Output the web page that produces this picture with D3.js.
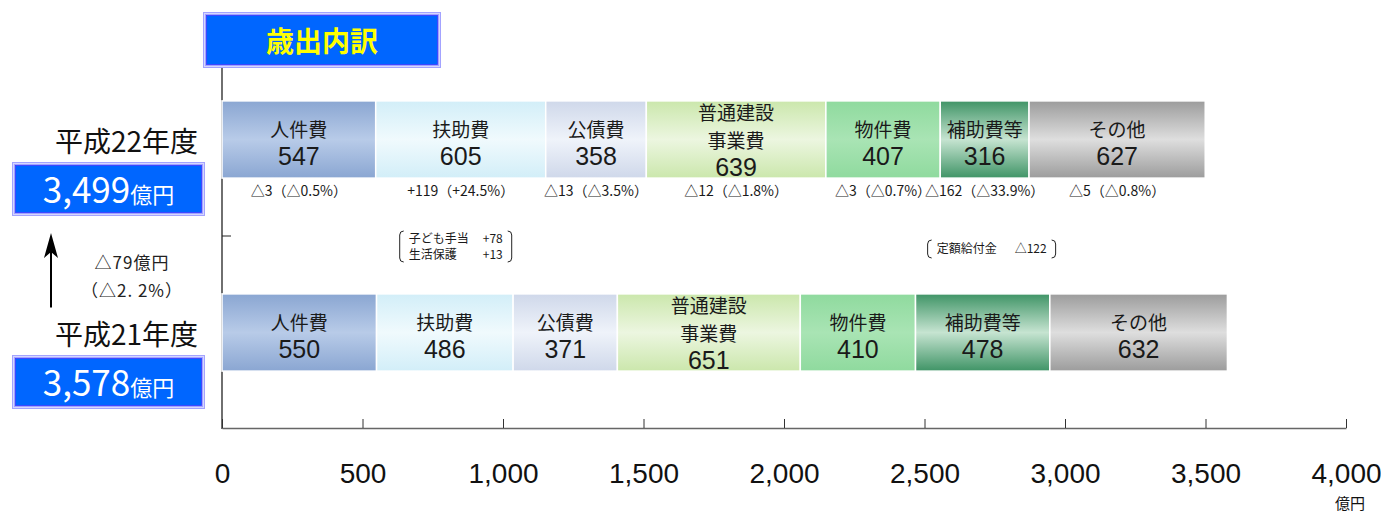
<!DOCTYPE html>
<html><head><meta charset="utf-8">
<script src="https://cdn.jsdelivr.net/npm/d3@7"></script>
<style>
body{margin:0;background:#fff}
svg{display:block}
</style></head><body>
<svg id="chart"></svg>
<script>
// data
const years = ["平成22年度", "平成21年度"];
const totals = ["3,499", "3,578"];
const items = ["人件費", "扶助費", "公債費", "普通建設事業費", "物件費", "補助費等", "その他"];
const itemLines = [["人件費"], ["扶助費"], ["公債費"], ["普通建設", "事業費"], ["物件費"], ["補助費等"], ["その他"]];
const h22 = [547, 605, 358, 639, 407, 316, 627];
const h21 = [550, 486, 371, 651, 410, 478, 632];
const changes = ["△3（△0.5%）", "+119（+24.5%）", "△13（△3.5%）", "△12（△1.8%）", "△3（△0.7%）", "△162（△33.9%）", "△5（△0.8%）"];
const diffLines = ["△79億円", "（△2. 2%）"];
const xTicks = [0, 500, 1000, 1500, 2000, 2500, 3000, 3500, 4000];
// notes under a segment: [item index, [[name, value], ...]]
const notes = [[1, [["子ども手当", "+78"], ["生活保護", "+13"]]], [5, [["定額給付金", "△122"]]]];
const grad = [["#8aa6d2", "#b8cbe8"], ["#d2eef8", "#f0fafd"], ["#cfd8ea", "#eff3fa"], ["#cbe7ac", "#ecf6e0"],
  ["#8fda9e", "#a9e4b4"], ["#3f9466", "#c6e4d1"], ["#9c9c9c", "#dedede"]];

(() => {
const W = 1381, H = 512;
const JP = "'Noto Sans CJK JP', sans-serif", NUM = "'Liberation Sans Narrow', 'Arial Narrow', sans-serif";
const svg = d3.select("#chart").attr("width", W).attr("height", H);

const x = d3.scaleLinear().domain([0, 4000]).range([222, 1346]);
const y = d3.scaleBand().domain(years).range([43, 429]).paddingInner(0.6).paddingOuter(0.3);
const bw = y.bandwidth();

// gradients
const defs = svg.append("defs");
grad.forEach((c, j) => {
  const lg = defs.append("linearGradient").attr("id", "g" + j).attr("x1", 0).attr("y1", 0).attr("x2", 0).attr("y2", 1);
  lg.append("stop").attr("offset", "0%").attr("stop-color", c[0]);
  lg.append("stop").attr("offset", "50%").attr("stop-color", c[1]);
  lg.append("stop").attr("offset", "100%").attr("stop-color", c[0]);
});

// stacked data
const vals = [h22, h21];
const rows = years.map((yr, i) => Object.assign({ yr }, Object.fromEntries(items.map((k, j) => [k, vals[i][j]]))));
const series = d3.stack().keys(items)(rows);

// title box
const box = (g, x0, y0, w, h) => {
  g.append("rect").attr("x", x0).attr("y", y0).attr("width", w).attr("height", h).attr("fill", "#a3a3ff");
  g.append("rect").attr("x", x0 + 1.5).attr("y", y0 + 1.5).attr("width", w - 3).attr("height", h - 3)
    .attr("fill", "none").attr("stroke", "#d6d6ff").attr("stroke-width", 1);
  g.append("rect").attr("x", x0 + 3.5).attr("y", y0 + 3.5).attr("width", w - 7).attr("height", h - 7)
    .attr("fill", "#0066ff").attr("stroke", "#3a3aff").attr("stroke-width", 0.8);
};
const tg = svg.append("g");
box(tg, 203, 12, 238, 56);
tg.append("text").attr("x", 322).attr("y", 52).attr("text-anchor", "middle")
  .attr("font-family", JP).attr("font-weight", 700).attr("font-size", 28).attr("fill", "#ffff00").text("歳出内訳");

// axes
svg.append("line").attr("x1", 222).attr("x2", 222).attr("y1", 68).attr("y2", 429)
  .attr("stroke", "#222").attr("stroke-width", 1.3);
const yB = y(years[1]) - y.step() * y.paddingInner() / 2;
svg.append("line").attr("x1", 222).attr("x2", 231).attr("y1", yB).attr("y2", yB).attr("stroke", "#222");

const ax = svg.append("g").attr("transform", "translate(0,428)")
  .call(d3.axisBottom(x).tickValues(xTicks).tickFormat(d3.format(",")).tickSize(-9).tickSizeOuter(0).tickPadding(35));
ax.select(".domain").attr("stroke", "#666").attr("stroke-width", 1.6);
ax.selectAll(".tick line").attr("stroke", "#333");
ax.selectAll(".tick text").attr("font-family", NUM).attr("font-size", 28).attr("fill", "#111");
svg.append("text").attr("x", 1350).attr("y", 509).attr("text-anchor", "middle")
  .attr("font-family", JP).attr("font-size", 15).attr("fill", "#111").text("億円");

// bars
const bars = svg.append("g");
series.forEach((s, j) => {
  s.forEach(d => {
    const cy = y(d.data.yr) + bw / 2, x0 = x(d[0]), x1 = x(d[1]);
    bars.append("rect").attr("x", x0).attr("y", y(d.data.yr)).attr("width", x1 - x0).attr("height", bw)
      .attr("fill", `url(#g${j})`).attr("stroke", "#fff").attr("stroke-width", 1.5);
    const lines = [...itemLines[j], String(d[1] - d[0])];
    const first = cy - 3 - (lines.length - 2) * 16.5;
    lines.forEach((t, k) => {
      const isNum = k === lines.length - 1;
      bars.append("text").attr("x", (x0 + x1) / 2).attr("y", first + k * 28).attr("text-anchor", "middle")
        .attr("font-family", isNum ? NUM : JP).attr("font-size", isNum ? 25 : 19).attr("fill", "#1a1a1a").text(t);
    });
  });
});

// change labels under the 平成22年度 bar
const topSeg = series.map(s => s[0]);
svg.append("g").selectAll("text").data(changes).join("text")
  .attr("x", (d, j) => x((topSeg[j][0] + topSeg[j][1]) / 2)).attr("y", y(years[0]) + bw + 18)
  .attr("text-anchor", "middle").attr("font-family", JP).attr("font-size", 14).attr("fill", "#1a1a1a").text(d => d);

// bracket notes
const ng = svg.append("g").attr("font-family", JP).attr("font-size", 12).attr("fill", "#1a1a1a");
notes.forEach(([j, lines]) => {
  const cx = x((topSeg[j][0] + topSeg[j][1]) / 2) + (lines.length > 1 ? -5 : 7);
  const wN = lines.length > 1 ? 94 : 110, lh = 16;
  const yTop = lines.length > 1 ? 231 : 240, hgt = lines.length > 1 ? 31 : 18;
  const l = cx - wN / 2, r = cx + wN / 2;
  ng.append("path").attr("fill", "none").attr("stroke", "#222").attr("stroke-width", 1)
    .attr("d", `M${l - 5},${yTop} Q${l - 9},${yTop} ${l - 9},${yTop + 4} L${l - 9},${yTop + hgt - 4} Q${l - 9},${yTop + hgt} ${l - 5},${yTop + hgt}`);
  ng.append("path").attr("fill", "none").attr("stroke", "#222").attr("stroke-width", 1)
    .attr("d", `M${r + 5},${yTop} Q${r + 9},${yTop} ${r + 9},${yTop + 4} L${r + 9},${yTop + hgt - 4} Q${r + 9},${yTop + hgt} ${r + 5},${yTop + hgt}`);
  lines.forEach(([nm, v], k) => {
    const by = yTop + 13 + k * lh - (lines.length > 1 ? 1 : 0);
    ng.append("text").attr("x", l).attr("y", by).text(nm);
    ng.append("text").attr("x", r).attr("y", by).attr("text-anchor", "end").text(v);
  });
});

// left labels and totals
years.forEach((yr, i) => {
  const cy = y(yr) + bw / 2;
  svg.append("text").attr("x", 198).attr("y", cy + 12).attr("text-anchor", "end")
    .attr("font-family", JP).attr("font-size", 28).attr("fill", "#111").text(yr);
  const g = svg.append("g");
  box(g, 12, cy + 22.5, 193, 54);
  const t = g.append("text").attr("x", 108.5).attr("y", cy + 63).attr("text-anchor", "middle")
    .attr("font-family", JP).attr("fill", "#fff");
  t.append("tspan").attr("font-size", 35).text(totals[i]);
  t.append("tspan").attr("font-size", 22).text("億円");
});

// arrow and difference
const yLow = y(years[1]) + bw / 2;
svg.append("line").attr("x1", 51).attr("x2", 51).attr("y1", yLow - 25).attr("y2", yB + 10)
  .attr("stroke", "#000").attr("stroke-width", 2);
svg.append("path").attr("fill", "#000")
  .attr("d", `M51,${yB - 3} L58,${yB + 22} L51,${yB + 16} L44,${yB + 22} Z`);
svg.append("g").selectAll("text").data(diffLines).join("text")
  .attr("x", 132).attr("y", (d, k) => yB + 33 + k * 28).attr("text-anchor", "middle")
  .attr("font-family", JP).attr("font-size", 17).attr("letter-spacing", 1).attr("fill", "#222").text(d => d);
})();
</script>
</body></html>
